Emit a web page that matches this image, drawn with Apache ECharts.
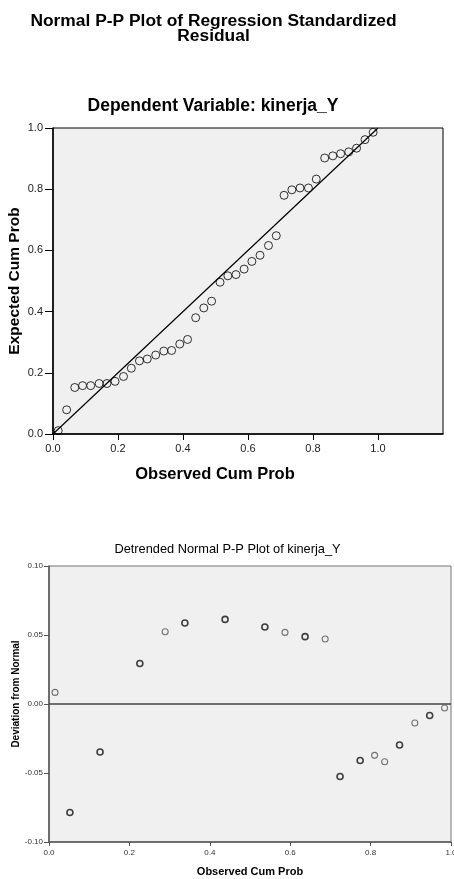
<!DOCTYPE html>
<html>
<head>
<meta charset="utf-8">
<script src="https://cdn.jsdelivr.net/npm/echarts@6/dist/echarts.min.js"></script>
<style>html,body{margin:0;padding:0;background:#fff}#c{width:454px;height:879px}</style>
</head>
<body>
<div id="c"></div>
<script>
// Normal P-P plot: observed vs expected cumulative probability
var ppObserved = [0.016,0.042,0.067,0.091,0.116,0.142,0.166,0.191,0.217,0.241,0.266,0.290,0.316,0.341,0.365,0.390,0.414,0.439,0.464,0.488,0.514,0.538,0.563,0.588,0.612,0.637,0.663,0.687,0.711,0.735,0.760,0.786,0.810,0.836,0.861,0.885,0.910,0.934,0.960,0.985];
var ppExpected = [0.011,0.079,0.152,0.158,0.158,0.165,0.165,0.172,0.188,0.215,0.239,0.245,0.258,0.271,0.273,0.294,0.309,0.380,0.412,0.434,0.496,0.517,0.521,0.539,0.564,0.584,0.616,0.648,0.780,0.798,0.804,0.804,0.833,0.902,0.909,0.916,0.922,0.934,0.962,0.986];
var refLine = [[0,0],[1,1]];
// Detrended P-P plot
var detObservedA = [0.052,0.127,0.226,0.338,0.438,0.537,0.637,0.724,0.774,0.872,0.947];
var detDeviationA = [-0.0786,-0.0348,0.0294,0.0587,0.0613,0.0558,0.0488,-0.0525,-0.0409,-0.0297,-0.0083];
var detObservedB = [0.015,0.289,0.587,0.687,0.810,0.835,0.910,0.984];
var detDeviationB = [0.0084,0.0524,0.0519,0.0471,-0.0372,-0.0418,-0.0138,-0.0029];
var zeroLine = [[0,0],[1,0]];
var topTicks = [0,0.2,0.4,0.6,0.8,1.0];
var detTicksX = [0,0.2,0.4,0.6,0.8,1.0];
var detTicksY = [-0.10,-0.05,0,0.05,0.10];

function zip(a,b){return a.map(function(v,i){return [v,b[i]];});}

var F = 'Arial, "Liberation Sans", Helvetica, sans-serif';
var chart = echarts.init(document.getElementById('c'), null, {renderer:'canvas'});
chart.setOption({
  animation:false,
  backgroundColor:'#fff',
  title:[
    {text:'Normal P-P Plot of Regression Standardized\nResidual', left:208.5, top:9, textAlign:'center',
     textStyle:{fontFamily:F,fontSize:17.4,fontWeight:'bold',color:'#000',lineHeight:15}},
    {text:'Dependent Variable: kinerja_Y', left:208, top:92, textAlign:'center',
     textStyle:{fontFamily:F,fontSize:17.5,fontWeight:'bold',color:'#000'}},
    {text:'Detrended Normal P-P Plot of kinerja_Y', left:222.5, top:538, textAlign:'center',
     textStyle:{fontFamily:F,fontSize:12.8,fontWeight:'normal',color:'#000'}}
  ],
  grid:[
    {left:53, right:11, top:128, bottom:445, show:true, backgroundColor:'#f0f0f0', borderColor:'#000', borderWidth:1, containLabel:false, outerBoundsMode:'none'},
    {left:49, right:3, top:566, bottom:37, show:true, backgroundColor:'#f0f0f0', borderColor:'#777', borderWidth:1, containLabel:false, outerBoundsMode:'none'}
  ],
  xAxis:[
    {type:'value', gridIndex:0, min:0, max:1.2, interval:0.2,
     name:'Observed Cum Prob', nameLocation:'middle', nameGap:32, nameMoveOverlap:false,
     nameTextStyle:{fontFamily:F,fontSize:16.5,fontWeight:'bold',color:'#000',padding:[0,66,0,0]},
     splitLine:{show:false},
     axisLine:{show:true,onZero:false,lineStyle:{color:'#000',width:1.5}},
     axisTick:{show:true,length:6,lineStyle:{color:'#000'},customValues:topTicks},
     axisLabel:{fontFamily:F,fontSize:11,color:'#222',margin:9,customValues:topTicks,formatter:function(v){return v.toFixed(1);}}},
    {type:'value', gridIndex:1, min:0, max:1.0, interval:0.2,
     name:'Observed Cum Prob', nameLocation:'middle', nameGap:24, nameMoveOverlap:false,
     nameTextStyle:{fontFamily:F,fontSize:11,fontWeight:'bold',color:'#000'},
     splitLine:{show:false},
     axisLine:{show:true,onZero:false,lineStyle:{color:'#555',width:1.5}},
     axisTick:{show:true,length:4,lineStyle:{color:'#555'},customValues:detTicksX},
     axisLabel:{fontFamily:F,fontSize:8,color:'#333',margin:7,customValues:detTicksX,formatter:function(v){return v.toFixed(1);}}}
  ],
  yAxis:[
    {type:'value', gridIndex:0, min:0, max:1.0, interval:0.2,
     name:'Expected Cum Prob', nameLocation:'middle', nameGap:30, nameMoveOverlap:false,
     nameTextStyle:{fontFamily:F,fontSize:15.5,fontWeight:'bold',color:'#000'},
     splitLine:{show:false},
     axisLine:{show:true,onZero:false,lineStyle:{color:'#000',width:1.5}},
     axisTick:{show:true,length:8,lineStyle:{color:'#000'}},
     axisLabel:{fontFamily:F,fontSize:11,color:'#222',margin:10,formatter:function(v){return v.toFixed(1);}}},
    {type:'value', gridIndex:1, min:-0.10, max:0.10, interval:0.05,
     name:'Deviation from Normal', nameLocation:'middle', nameGap:28, nameMoveOverlap:false,
     nameTextStyle:{fontFamily:F,fontSize:10,fontWeight:'bold',color:'#000',padding:[0,0,0,20]},
     splitLine:{show:false},
     axisLine:{show:true,onZero:false,lineStyle:{color:'#555',width:1.5}},
     axisTick:{show:true,length:5,lineStyle:{color:'#555'},customValues:detTicksY},
     axisLabel:{fontFamily:F,fontSize:8,color:'#333',margin:6,customValues:detTicksY,formatter:function(v){return v.toFixed(2);}}}
  ],
  series:[
    {type:'line', xAxisIndex:0, yAxisIndex:0, data:refLine, symbol:'none', silent:true,
     lineStyle:{color:'#000',width:1.2}},
    {type:'scatter', xAxisIndex:0, yAxisIndex:0, data:zip(ppObserved, ppExpected),
     symbol:'circle', symbolSize:8,
     itemStyle:{color:'rgba(0,0,0,0)', borderColor:'#000', borderWidth:1}},
    {type:'line', xAxisIndex:1, yAxisIndex:1, data:zeroLine, symbol:'none', silent:true,
     lineStyle:{color:'#444',width:1.5}},
    {type:'scatter', xAxisIndex:1, yAxisIndex:1, data:zip(detObservedA, detDeviationA),
     symbol:'circle', symbolSize:6,
     itemStyle:{color:'rgba(0,0,0,0)', borderColor:'#111', borderWidth:1.6}},
    {type:'scatter', xAxisIndex:1, yAxisIndex:1, data:zip(detObservedB, detDeviationB),
     symbol:'circle', symbolSize:6,
     itemStyle:{color:'rgba(0,0,0,0)', borderColor:'#555', borderWidth:1.1}}
  ]
});
</script>
</body>
</html>
